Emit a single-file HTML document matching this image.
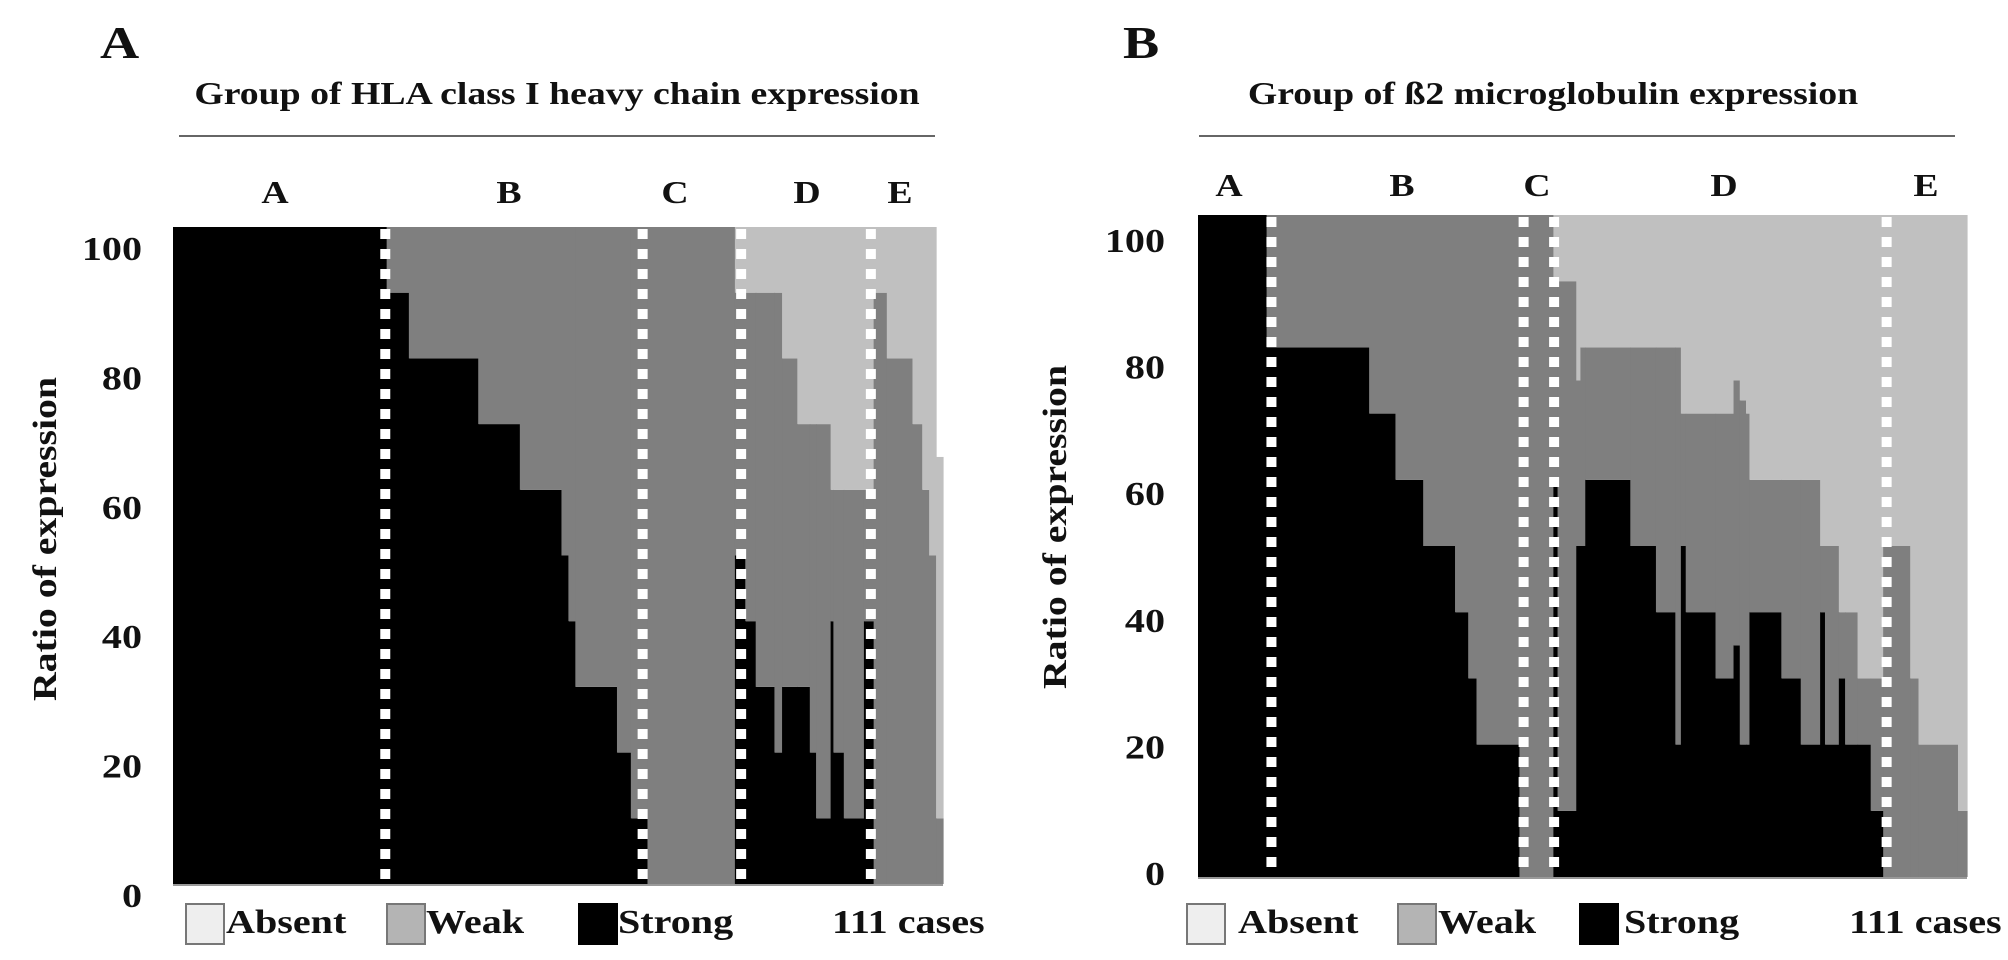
<!DOCTYPE html>
<html><head><meta charset="utf-8"><style>
html,body{margin:0;padding:0;background:#fff;}
svg{display:block;}
text{font-family:"Liberation Serif",serif;font-weight:bold;fill:#111;}
</style></head><body>
<svg id="fig" width="2008" height="960" viewBox="0 0 2008 960"></svg>
<script>
// Panel A data (HLA class I heavy chain)
const casesA  = [30.8,3.2,10,6,6,1,1,6,2,2.4,12.6,1.5,1.5,2.7,1.1,2.2,1.8,0.9,2.1,0.4,1.5,2.9,1.4,1.9,3.7,1.4,1,1,1];
const strongA = [100,90,80,70,60,50,40,30,20,10,0,50,40,30,20,30,30,20,10,40,20,10,40,0,0,0,0,0,0];
const weakA   = [0,10,20,30,40,50,60,70,80,90,100,40,50,60,70,50,40,50,60,20,40,50,20,90,80,70,60,50,10];
const absentA = [0,0,0,0,0,0,0,0,0,0,0,10,10,10,10,20,30,30,30,40,40,40,40,10,20,30,40,50,55];
const sepA    = [30.6,67.7,81.9,100.6];
const groupsA = ["A","B","C","D","E"];
// Panel B data (beta2 microglobulin)
const casesB  = [9.9,14.8,3.8,4,4.6,1.9,1.2,6.2,4.9,0.6,2.7,0.6,0.7,6.5,3.7,2.8,0.8,0.7,4.3,2.6,0.9,0.9,0.5,4.6,2.8,2.8,0.7,2,0.9,1.8,1.9,1.8,3.9,1.2,5.7,1.3];
const strongB = [100,80,70,60,50,40,30,20,0,60,10,50,50,60,50,40,20,50,40,30,35,20,20,40,30,20,40,20,30,20,20,10,0,0,0,0];
const weakB   = [0,20,30,40,50,60,70,80,100,30,80,25,30,20,30,40,60,20,30,40,40,52,50,20,30,40,10,30,10,20,10,20,50,30,20,10];
const absentB = [0,0,0,0,0,0,0,0,0,10,10,25,20,20,20,20,20,30,30,30,25,28,30,40,40,40,50,50,60,60,70,70,50,70,80,90];
const sepB    = [10.6,47,51.4,99.4];
const groupsB = ["A","B","C","D","E"];
const yTicks  = [0,20,40,60,80,100];
const TOTAL = 111;

const NS="http://www.w3.org/2000/svg";
const svg=document.getElementById('fig');
const SX=1.18;
function mk(tag,attrs,parent){const e=document.createElementNS(NS,tag);for(const k in attrs)e.setAttribute(k,attrs[k]);(parent||svg).appendChild(e);return e;}
function txt(s,x,y,attrs,parent){
  const e=mk('text',Object.assign({x:0,y:0,transform:`translate(${x},${y}) scale(${SX},1)`},attrs),parent);
  e.textContent=s;return e;}

function panel(cfg){
  const g=mk('g',{});
  
  
  const xs=u=>cfg.x0+(cfg.x1-cfg.x0)*u/TOTAL;
  const ys=v=>cfg.y1-(cfg.y1-cfg.y0)*v/100;
  const ty=v=>cfg.t0-(cfg.t0-cfg.t100)*v/100;
  let u=0;
  for(let i=0;i<cfg.cases.length;i++){
    const xa=xs(u), xb=xs(u+cfg.cases[i])+0.6;
    const s=cfg.strong[i], w=cfg.weak[i], a=cfg.absent[i];
    if(s>0){const r=mk('rect',{x:xa,y:ys(s),width:xb-xa,height:ys(0)-ys(s),fill:'#000'},g);
      }
    if(w>0){const r=mk('rect',{x:xa,y:ys(s+w),width:xb-xa,height:ys(s)-ys(s+w),fill:'#7f7f7f'},g);
      }
    if(a>0){const r=mk('rect',{x:xa,y:ys(s+w+a),width:xb-xa,height:ys(s+w)-ys(s+w+a),fill:'#c0c0c0'},g);
      }
    u+=cfg.cases[i];
  }
  const base=mk('line',{x1:cfg.x0,x2:cfg.x1,y1:cfg.y1+1,y2:cfg.y1+1,stroke:'#999','stroke-width':2},g);
  
  for(const sv of cfg.seps){
    const l=mk('line',{x1:xs(sv),x2:xs(sv),y1:cfg.y0+2,y2:cfg.y1,stroke:'#fff','stroke-width':10,'stroke-dasharray':'10 10'},g);
    
  }
  for(const v of yTicks){
    const t=txt(String(v),cfg.tickX,ty(v)+12,{'text-anchor':'end','font-size':34},g);
    
  }
  cfg.groups.forEach((gname,i)=>{
    const t=txt(gname,cfg.groupX[i],cfg.groupY,{'text-anchor':'middle','font-size':32},g);
    
  });
  const pl=txt(cfg.letter,cfg.letterX,58,{'font-size':46},g);
  
  const tt=txt(cfg.title,cfg.titleX,104,{'text-anchor':'middle','font-size':32},g);
  
  const hl=mk('line',{x1:cfg.lineX0,x2:cfg.lineX1,y1:136,y2:136,stroke:'#666','stroke-width':2},g);
  
  const yt=mk('text',{x:0,y:0,'text-anchor':'middle','font-size':34,transform:`translate(${cfg.ytX},${cfg.ytY}) rotate(-90) scale(1.17,1)`},g);
  yt.textContent='Ratio of expression';
  
  // legend
  const L=cfg.legend;
  const items=[['Absent','#eeeeee'],['Weak','#b4b4b4'],['Strong','#000']];
  items.forEach((it,i)=>{
    const b=mk('rect',{x:L.box[i],y:904,width:38,height:40,fill:it[1],stroke:it[1]==='#000'?'#000':'#777','stroke-width':2},g);
    
    const t=txt(it[0],L.text[i],933,{'font-size':34},g);
    
  });
  const c=txt('111 cases',L.cases,933,{'font-size':34},g);
  
}

panel({name:'panel-a-hla-heavy-chain',x0:173,x1:943,y0:227,y1:884,cases:casesA,strong:strongA,weak:weakA,absent:absentA,seps:sepA,
  t0:895,t100:248,tickX:142,groups:groupsA,groupX:[275,509,675,807,900],groupY:203,letter:'A',letterX:100,
  title:'Group of HLA class I heavy chain expression',titleX:557,lineX0:179,lineX1:935,ytX:56,ytY:539,
  legend:{box:[186,387,579],text:[226,426,618],cases:832}});
panel({name:'panel-b-b2-microglobulin',x0:1198,x1:1967,y0:215,y1:877,cases:casesB,strong:strongB,weak:weakB,absent:absentB,seps:sepB,
  t0:873,t100:240,tickX:1165,groups:groupsB,groupX:[1229,1402,1537,1724,1926],groupY:196,letter:'B',letterX:1123,
  title:'Group of ß2 microglobulin expression',titleX:1553,lineX0:1199,lineX1:1955,ytX:1066,ytY:527,
  legend:{box:[1187,1398,1580],text:[1238,1438,1624],cases:1849}});
</script>
</body></html>
